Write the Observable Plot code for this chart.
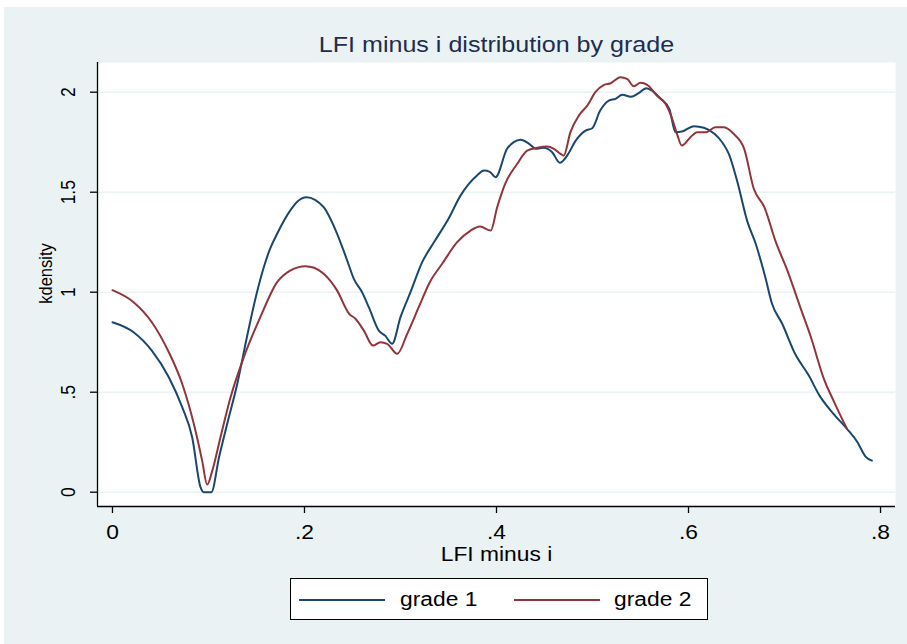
<!DOCTYPE html>
<html>
<head>
<meta charset="utf-8">
<script src="https://cdn.jsdelivr.net/npm/d3@7"></script>
<script src="https://cdn.jsdelivr.net/npm/@observablehq/plot@0.6"></script>
<style>
  html, body { margin: 0; padding: 0; background: #ffffff; }
  body { width: 907px; height: 644px; position: relative; overflow: hidden; font-family: "Liberation Sans", Arial, sans-serif; }
  #bg { position: absolute; left: 4px; top: 7px; width: 903px; height: 637px; background: #EAF2F3; }
  #chart { position: absolute; left: 0; top: 0; }
  #chart svg { background: transparent; }
  #legend { position: absolute; left: 290px; top: 578px; width: 416px; height: 40px; background: #fff; border: 1px solid #000; }
  .sw { position: absolute; top: 20px; height: 2px; width: 86px; }
  .lt { position: absolute; top: 8px; font-size: 20px; line-height: 24px; color: #000; transform: scaleX(1.14); transform-origin: 0 50%; }
</style>
</head>
<body>
<div id="bg"></div>
<div id="chart"></div>
<div id="legend">
  <div class="sw" style="left:8px;background:#1A476F"></div>
  <div class="lt" style="left:109px">grade 1</div>
  <div class="sw" style="left:223px;background:#90353B"></div>
  <div class="lt" style="left:323px">grade 2</div>
</div>
<script>
const titleText = "LFI minus i distribution by grade";
const xTitle = "LFI minus i";
const yTitle = "kdensity";
const seriesNames = ["grade 1", "grade 2"];
const xTicks = [0, 0.2, 0.4, 0.6, 0.8];
const xTickLabels = ["0", ".2", ".4", ".6", ".8"];
const yTicks = [0, 0.5, 1, 1.5, 2];
const yTickLabels = ["0", ".5", "1", "1.5", "2"];

const grade1X = [0, 0.022, 0.041, 0.0587, 0.0726, 0.083, 0.0917, 0.095, 0.103, 0.111, 0.1195, 0.130, 0.140, 0.150, 0.1576, 0.164, 0.1715, 0.1854, 0.193, 0.202, 0.211, 0.220, 0.234, 0.2445, 0.2514, 0.260, 0.267, 0.2774, 0.284, 0.2913, 0.300, 0.3104, 0.3226, 0.336, 0.350, 0.3625, 0.371, 0.380, 0.387, 0.393, 0.399, 0.411, 0.418, 0.425, 0.434, 0.441, 0.449, 0.458, 0.466, 0.4736, 0.4825, 0.4927, 0.4997, 0.508, 0.517, 0.524, 0.531, 0.540, 0.548, 0.556, 0.562, 0.571, 0.580, 0.5865, 0.593, 0.6056, 0.616, 0.627, 0.635, 0.642, 0.651, 0.661, 0.670, 0.680, 0.687, 0.6976, 0.711, 0.7253, 0.7365, 0.751, 0.765, 0.776, 0.7844, 0.791];
const grade1Y = [0.85, 0.80, 0.708, 0.575, 0.425, 0.275, 0.025, 0, 0, 0.175, 0.342, 0.542, 0.775, 0.99, 1.125, 1.215, 1.292, 1.41, 1.455, 1.475, 1.462, 1.425, 1.292, 1.158, 1.067, 1.0, 0.925, 0.808, 0.783, 0.742, 0.875, 1.0, 1.15, 1.258, 1.367, 1.483, 1.54, 1.585, 1.608, 1.602, 1.575, 1.717, 1.75, 1.762, 1.742, 1.717, 1.722, 1.70, 1.647, 1.683, 1.758, 1.808, 1.82, 1.908, 1.958, 1.967, 1.987, 1.977, 1.995, 2.02, 2.008, 1.967, 1.917, 1.80, 1.803, 1.83, 1.822, 1.792, 1.75, 1.692, 1.55, 1.358, 1.242, 1.075, 0.942, 0.842, 0.692, 0.583, 0.483, 0.392, 0.317, 0.25, 0.178, 0.158];

const grade2X = [0, 0.022, 0.041, 0.0587, 0.0726, 0.0847, 0.0934, 0.0986, 0.104, 0.1125, 0.123, 0.1368, 0.154, 0.1715, 0.185, 0.193, 0.201, 0.210, 0.220, 0.234, 0.2465, 0.2531, 0.2618, 0.2715, 0.279, 0.2861, 0.2966, 0.307, 0.319, 0.3305, 0.3434, 0.359, 0.373, 0.383, 0.394, 0.4007, 0.409, 0.4216, 0.432, 0.4424, 0.4528, 0.4597, 0.4667, 0.470, 0.477, 0.4858, 0.4945, 0.503, 0.512, 0.519, 0.529, 0.536, 0.543, 0.55, 0.557, 0.567, 0.576, 0.583, 0.588, 0.593, 0.602, 0.609, 0.618, 0.628, 0.637, 0.647, 0.658, 0.668, 0.679, 0.691, 0.703, 0.717, 0.7275, 0.741, 0.751, 0.765];
const grade2Y = [1.01, 0.95, 0.85, 0.70, 0.542, 0.342, 0.158, 0.038, 0.108, 0.275, 0.475, 0.675, 0.875, 1.05, 1.108, 1.124, 1.13, 1.122, 1.092, 1.008, 0.892, 0.867, 0.808, 0.733, 0.75, 0.742, 0.692, 0.792, 0.925, 1.05, 1.142, 1.25, 1.308, 1.328, 1.308, 1.425, 1.542, 1.642, 1.708, 1.722, 1.728, 1.717, 1.692, 1.683, 1.80, 1.883, 1.933, 2.0, 2.037, 2.045, 2.075, 2.067, 2.03, 2.047, 2.037, 1.983, 1.942, 1.867, 1.792, 1.733, 1.775, 1.80, 1.80, 1.825, 1.825, 1.792, 1.717, 1.517, 1.425, 1.25, 1.108, 0.917, 0.775, 0.567, 0.458, 0.317];

const rows = [
  ...grade1X.map((x, i) => ({x, y: grade1Y[i], s: seriesNames[0]})),
  ...grade2X.map((x, i) => ({x, y: grade2Y[i], s: seriesNames[1]}))
];

const xDom = [-0.0156, 0.8156];
const yDom = [-0.0715, 2.1485];
const font = "'Liberation Sans', Arial, sans-serif";
const stretch = 1.14;

const chart = Plot.plot({
  width: 907,
  height: 570,
  marginLeft: 97,
  marginRight: 12,
  marginTop: 62,
  marginBottom: 64,
  style: {fontFamily: font, background: "transparent", color: "#000"},
  x: {domain: xDom},
  y: {domain: yDom},
  color: {domain: seriesNames, range: ["#1A476F", "#90353B"]},
  marks: [
    Plot.frame({fill: "white", stroke: null}),
    Plot.gridY(yTicks, {stroke: "#EAF2F3", strokeOpacity: 1, strokeWidth: 1.6}),
    Plot.line(rows, {x: "x", y: "y", z: "s", stroke: "s", strokeWidth: 2, curve: "monotone-x"}),
    Plot.ruleX([xDom[0]], {stroke: "#000", strokeWidth: 1.3}),
    Plot.ruleY([yDom[0]], {stroke: "#000", strokeWidth: 1.3}),
    Plot.axisX({ticks: xTicks, tickFormat: d => xTickLabels[xTicks.indexOf(d)], tickSize: 7, tickPadding: 11, fontSize: 20, label: null, stroke: "#000", strokeWidth: 1.3}),
    Plot.axisY({ticks: yTicks, tickFormat: () => "", tickSize: 7, label: null, stroke: "#000", strokeWidth: 1.3}),
    Plot.text(yTicks, {y: d => d, text: d => yTickLabels[yTicks.indexOf(d)], frameAnchor: "left", dx: -29, rotate: -90, fontSize: 17.5, textAnchor: "middle", lineAnchor: "middle", fill: "#000"}),
    Plot.text([xTitle], {frameAnchor: "bottom", dy: 48, fontSize: 20, textAnchor: "middle", lineAnchor: "middle", fill: "#000"}),
    Plot.text([yTitle], {frameAnchor: "left", dx: -52, dy: -11, rotate: -90, fontSize: 16.5, textAnchor: "middle", lineAnchor: "middle", fill: "#000"}),
    Plot.text([titleText], {frameAnchor: "top", dy: -18, fontSize: 22, textAnchor: "middle", lineAnchor: "middle", fill: "#1E2D4E"})
  ]
});
// widen glyphs horizontally as in the reference rendering
chart.querySelectorAll("text").forEach(t => {
  const tr = t.getAttribute("transform") || "";
  if (/rotate\(-90\)/.test(tr)) t.setAttribute("transform", tr + ` scale(1,${stretch})`);
  else t.setAttribute("transform", tr + ` scale(${stretch},1)`);
});
document.getElementById("chart").appendChild(chart);
</script>
</body>
</html>
